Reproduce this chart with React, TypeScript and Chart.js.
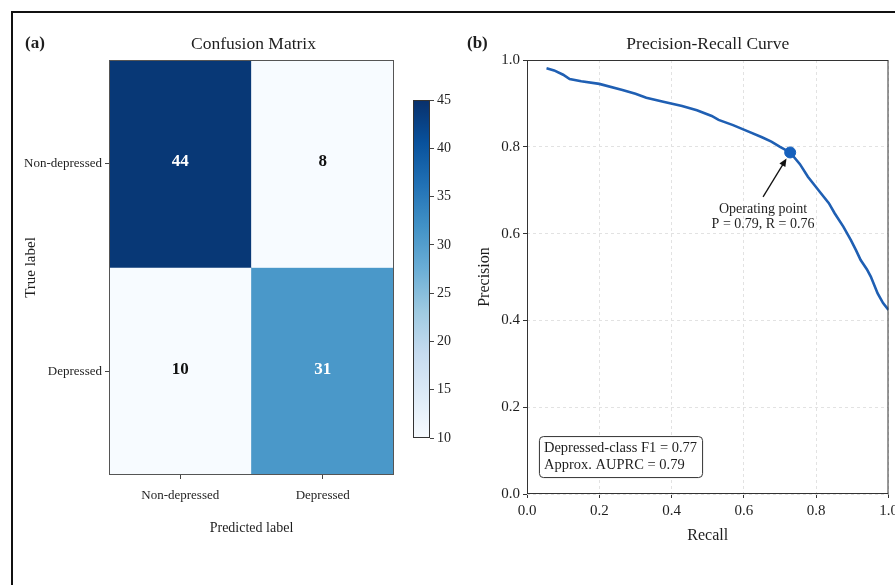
import React, { useEffect, useRef } from "react";
import { Chart, registerables } from "chart.js";

Chart.register(...registerables);

// ---------- data ----------
const predictedLabels = ["Non-depressed", "Depressed"];
const trueLabels = ["Non-depressed", "Depressed"];
const matrixRowNonDepressed = [44, 8];
const matrixRowDepressed = [10, 31];
const colorbarMin = 10;
const colorbarMax = 45;
const colorbarStep = 5;

const recallValues = [0.054, 0.075, 0.1, 0.118, 0.15, 0.2, 0.264, 0.3, 0.33, 0.38, 0.429, 0.47, 0.511, 0.53, 0.57, 0.613, 0.65, 0.676, 0.7, 0.728, 0.755, 0.777, 0.795, 0.813, 0.835, 0.851, 0.875, 0.896, 0.91, 0.923, 0.94, 0.951, 0.97, 0.985, 1.0];
const precisionValues = [0.981, 0.976, 0.966, 0.956, 0.951, 0.945, 0.931, 0.922, 0.913, 0.903, 0.894, 0.884, 0.871, 0.862, 0.85, 0.835, 0.822, 0.812, 0.8, 0.787, 0.76, 0.731, 0.712, 0.693, 0.67, 0.647, 0.616, 0.585, 0.562, 0.539, 0.518, 0.501, 0.462, 0.44, 0.424];
const operatingRecall = 0.728;
const operatingPrecision = 0.787;
const operatingLabel = ["Operating point", "P = 0.79, R = 0.76"];
const summaryLines = ["Depressed-class F1 = 0.77", "Approx. AUPRC = 0.79"];
const prTickStep = 0.2;

// ---------- styling helpers ----------
const FONT = "'Liberation Serif', 'DejaVu Serif', serif";
const TEXT = "#1e1e1e";
const bluesStops = ["#f7fbff", "#deebf7", "#c6dbef", "#9ecae1", "#6baed6", "#4292c6", "#2171b5", "#08519c", "#08306b"];

function hexToRgb(h: string) {
  const n = parseInt(h.slice(1), 16);
  return [(n >> 16) & 255, (n >> 8) & 255, n & 255];
}
function blues(v: number) {
  let t = (v - colorbarMin) / (colorbarMax - colorbarMin);
  t = Math.max(0, Math.min(1, t));
  const pos = t * (bluesStops.length - 1);
  const i = Math.min(bluesStops.length - 2, Math.floor(pos));
  const f = pos - i;
  const a = hexToRgb(bluesStops[i]);
  const b = hexToRgb(bluesStops[i + 1]);
  const c = a.map((x, k) => Math.round(x + (b[k] - x) * f));
  return `rgb(${c[0]},${c[1]},${c[2]})`;
}

const W = 895;
const H = 585;

function HeatmapChart() {
  const ref = useRef<HTMLCanvasElement>(null);
  useEffect(() => {
    const rows = [matrixRowNonDepressed, matrixRowDepressed];
    const plugin = {
      id: "heatDecor",
      afterDatasetsDraw(chart: any) {
        const { ctx, chartArea } = chart;
        ctx.save();
        rows.forEach((row, r) => {
          const meta = chart.getDatasetMeta(r);
          row.forEach((v, c) => {
            const el = meta.data[c];
            const cy = (el.y + el.base) / 2;
            ctx.fillStyle = v > 27 ? "#ffffff" : "#111111";
            ctx.font = `bold 17px ${FONT}`;
            ctx.textAlign = "center";
            ctx.textBaseline = "middle";
            ctx.fillText(String(v), el.x, cy - 2);
          });
        });
        ctx.strokeStyle = "#555";
        ctx.lineWidth = 1;
        ctx.strokeRect(chartArea.left + 0.5, chartArea.top + 0.5, chartArea.right - chartArea.left - 1, chartArea.bottom - chartArea.top - 1);
        ctx.fillStyle = TEXT;
        ctx.textBaseline = "middle";
        ctx.textAlign = "left";
        ctx.font = `bold 17px ${FONT}`;
        ctx.fillText("(a)", 25, 44);
        ctx.textAlign = "center";
        ctx.font = `17.5px ${FONT}`;
        ctx.fillText("Confusion Matrix", (chartArea.left + chartArea.right) / 2 + 2, 44);
        ctx.restore();
      },
    };
    const chart = new Chart(ref.current!, {
      type: "bar",
      data: {
        labels: predictedLabels,
        datasets: rows.map((row, r) => ({
          data: row.map(() => [r, r + 1]),
          backgroundColor: row.map((v) => blues(v)),
          grouped: false,
          barPercentage: 1,
          categoryPercentage: 1,
          borderWidth: 0,
        })) as any,
      },
      options: {
        animation: false,
        responsive: false,
        events: [],
        layout: { padding: { left: 18, top: 60, right: W - 394, bottom: 44 } },
        plugins: { legend: { display: false }, tooltip: { enabled: false } },
        scales: {
          x: {
            type: "category",
            offset: true,
            grid: { display: true, offset: false, drawOnChartArea: false, drawTicks: true, tickLength: 4, color: "#444" },
            border: { display: false },
            ticks: { font: { family: FONT, size: 13 }, color: TEXT, padding: 9 },
            title: { display: true, text: "Predicted label", font: { family: FONT, size: 14 }, color: TEXT, padding: { top: 4, bottom: 4 } },
            afterFit: (s: any) => { s.height = 66; s.paddingLeft = 0; s.paddingRight = 0; },
          },
          y: {
            type: "linear",
            min: 0,
            max: 2,
            reverse: true,
            afterBuildTicks: (s: any) => { s.ticks = [{ value: 0.5 }, { value: 1.5 }]; },
            grid: { display: true, drawOnChartArea: false, drawTicks: true, tickLength: 4, color: "#444" },
            border: { display: false },
            ticks: {
              font: { family: FONT, size: 13 },
              color: TEXT,
              padding: 3,
              autoSkip: false,
              callback: (v: any) => trueLabels[Math.floor(Number(v))],
            },
            title: { display: true, text: "True label", font: { family: FONT, size: 15 }, color: TEXT, padding: { top: 4, bottom: 4 } },
            afterFit: (s: any) => { s.width = 91; s.paddingTop = 0; s.paddingBottom = 0; },
          },
        },
      } as any,
      plugins: [plugin],
    });
    return () => chart.destroy();
  }, []);
  return <canvas ref={ref} width={W} height={H} style={{ position: "absolute", left: 0, top: 0 }} />;
}

function ColorbarChart() {
  const ref = useRef<HTMLCanvasElement>(null);
  useEffect(() => {
    const plugin = {
      id: "cbBorder",
      afterDatasetsDraw(chart: any) {
        const { ctx, chartArea } = chart;
        ctx.save();
        ctx.strokeStyle = "#333";
        ctx.lineWidth = 1;
        ctx.strokeRect(chartArea.left + 0.5, chartArea.top + 0.5, chartArea.right - chartArea.left - 1, chartArea.bottom - chartArea.top - 1);
        ctx.restore();
      },
    };
    const chart = new Chart(ref.current!, {
      type: "bar",
      data: {
        labels: [""],
        datasets: [
          {
            data: [[colorbarMin, colorbarMax]] as any,
            barPercentage: 1,
            categoryPercentage: 1,
            borderWidth: 0,
            backgroundColor: (c: any) => {
              const area = c.chart.chartArea;
              if (!area) return "#6baed6";
              const g = c.chart.ctx.createLinearGradient(0, area.bottom, 0, area.top);
              bluesStops.forEach((s, i) => g.addColorStop(i / (bluesStops.length - 1), s));
              return g;
            },
          },
        ],
      },
      options: {
        animation: false,
        responsive: false,
        events: [],
        layout: { padding: { left: 413, top: 100, right: W - 430 - 30, bottom: H - 438 } },
        plugins: { legend: { display: false }, tooltip: { enabled: false } },
        scales: {
          x: { display: false, offset: true },
          y: {
            position: "right",
            min: colorbarMin,
            max: colorbarMax,
            ticks: { stepSize: colorbarStep, font: { family: FONT, size: 14 }, color: TEXT, padding: 3 },
            grid: { display: true, drawOnChartArea: false, drawTicks: true, tickLength: 4, color: "#444" },
            border: { display: false },
            afterFit: (s: any) => { s.width = 30; s.paddingTop = 0; s.paddingBottom = 0; },
          },
        },
      } as any,
      plugins: [plugin],
    });
    return () => chart.destroy();
  }, []);
  return <canvas ref={ref} width={W} height={H} style={{ position: "absolute", left: 0, top: 0 }} />;
}

function PRChart() {
  const ref = useRef<HTMLCanvasElement>(null);
  useEffect(() => {
    const plugin = {
      id: "prDecor",
      afterDatasetsDraw(chart: any) {
        const { ctx, chartArea, scales } = chart;
        const xs = scales.x;
        const ys = scales.y;
        ctx.save();
        // spines
        ctx.strokeStyle = "#333";
        ctx.lineWidth = 1;
        ctx.strokeRect(chartArea.left + 0.5, chartArea.top + 0.5, chartArea.right - chartArea.left - 1, chartArea.bottom - chartArea.top - 1);
        // annotation
        const px = xs.getPixelForValue(operatingRecall);
        const py = ys.getPixelForValue(operatingPrecision);
        const tx = xs.getPixelForValue(operatingRecall - 0.075);
        const ty = ys.getPixelForValue(operatingPrecision - 0.13);
        ctx.fillStyle = TEXT;
        ctx.font = `14px ${FONT}`;
        ctx.textAlign = "center";
        ctx.textBaseline = "middle";
        ctx.fillText(operatingLabel[0], tx, ty);
        ctx.fillText(operatingLabel[1], tx, ty + 15);
        const sx = tx;
        const sy = ty - 12;
        const dx = px - sx;
        const dy = py - sy;
        const len = Math.hypot(dx, dy);
        const ux = dx / len;
        const uy = dy / len;
        const ex = px - ux * 7;
        const ey = py - uy * 7;
        ctx.strokeStyle = "#111";
        ctx.lineWidth = 1.3;
        ctx.beginPath();
        ctx.moveTo(sx, sy);
        ctx.lineTo(ex - ux * 6, ey - uy * 6);
        ctx.stroke();
        ctx.fillStyle = "#111";
        ctx.beginPath();
        ctx.moveTo(ex, ey);
        ctx.lineTo(ex - ux * 8 - uy * 3.5, ey - uy * 8 + ux * 3.5);
        ctx.lineTo(ex - ux * 8 + uy * 3.5, ey - uy * 8 - ux * 3.5);
        ctx.closePath();
        ctx.fill();
        // summary box (axes fraction position)
        const bx = chartArea.left + 0.033 * (chartArea.right - chartArea.left);
        const bb = chartArea.bottom - 0.039 * (chartArea.bottom - chartArea.top);
        ctx.font = `14.5px ${FONT}`;
        const tw = Math.max(...summaryLines.map((s) => ctx.measureText(s).width));
        const bw = tw + 10;
        const bh = 41;
        const by = bb - bh;
        ctx.beginPath();
        (ctx as any).roundRect(bx + 0.5, by + 0.5, bw, bh, 4);
        ctx.fillStyle = "#ffffff";
        ctx.fill();
        ctx.strokeStyle = "#333";
        ctx.lineWidth = 1;
        ctx.stroke();
        ctx.fillStyle = TEXT;
        ctx.textAlign = "left";
        ctx.textBaseline = "middle";
        ctx.fillText(summaryLines[0], bx + 5, by + 12);
        ctx.fillText(summaryLines[1], bx + 5, by + 29);
        // panel titles
        ctx.font = `bold 17px ${FONT}`;
        ctx.textAlign = "left";
        ctx.fillText("(b)", 467, 44);
        ctx.font = `17.5px ${FONT}`;
        ctx.textAlign = "center";
        ctx.fillText("Precision-Recall Curve", (chartArea.left + chartArea.right) / 2, 44);
        ctx.restore();
      },
    };
    const chart = new Chart(ref.current!, {
      type: "scatter",
      data: {
        datasets: [
          {
            data: [{ x: operatingRecall, y: operatingPrecision }],
            pointRadius: 5.5,
            backgroundColor: "#1560bd",
            borderColor: "#1560bd",
            order: 0,
          },
          {
            data: recallValues.map((r, i) => ({ x: r, y: precisionValues[i] })),
            showLine: true,
            borderColor: "#1f5fb3",
            borderWidth: 2.6,
            pointRadius: 0,
            tension: 0,
            order: 1,
          },
        ],
      },
      options: {
        animation: false,
        responsive: false,
        events: [],
        layout: { padding: { left: 471, top: 60, right: 4, bottom: 36 } },
        plugins: { legend: { display: false }, tooltip: { enabled: false } },
        scales: {
          x: {
            type: "linear",
            min: 0,
            max: 1,
            ticks: { stepSize: prTickStep, font: { family: FONT, size: 15 }, color: TEXT, padding: 4, callback: (v: any) => Number(v).toFixed(1) },
            grid: { color: "#e2e2e2", lineWidth: 1, tickColor: "#333", tickLength: 4 },
            border: { display: false, dash: [3, 3] },
            title: { display: true, text: "Recall", font: { family: FONT, size: 16 }, color: TEXT, padding: { top: 4, bottom: 4 } },
            afterFit: (s: any) => { s.height = 55; s.paddingLeft = 0; s.paddingRight = 0; },
          },
          y: {
            type: "linear",
            min: 0,
            max: 1,
            ticks: { stepSize: prTickStep, font: { family: FONT, size: 15 }, color: TEXT, padding: 3, callback: (v: any) => Number(v).toFixed(1) },
            grid: { color: "#e2e2e2", lineWidth: 1, tickColor: "#333", tickLength: 4 },
            border: { display: false, dash: [3, 3] },
            title: { display: true, text: "Precision", font: { family: FONT, size: 16 }, color: TEXT, padding: { top: 4, bottom: 4 } },
            afterFit: (s: any) => { s.width = 56; s.paddingTop = 0; s.paddingBottom = 0; },
          },
        },
      } as any,
      plugins: [plugin],
    });
    return () => chart.destroy();
  }, []);
  return <canvas ref={ref} width={W} height={H} style={{ position: "absolute", left: 0, top: 0 }} />;
}

export default function App() {
  return (
    <div style={{ position: "fixed", left: 0, top: 0, width: W, height: H, background: "#ffffff", overflow: "hidden" }}>
      <div style={{ position: "absolute", left: 11, top: 11, width: 1000, height: 1000, border: "2px solid #111" }} />
      <HeatmapChart />
      <ColorbarChart />
      <PRChart />
    </div>
  );
}
